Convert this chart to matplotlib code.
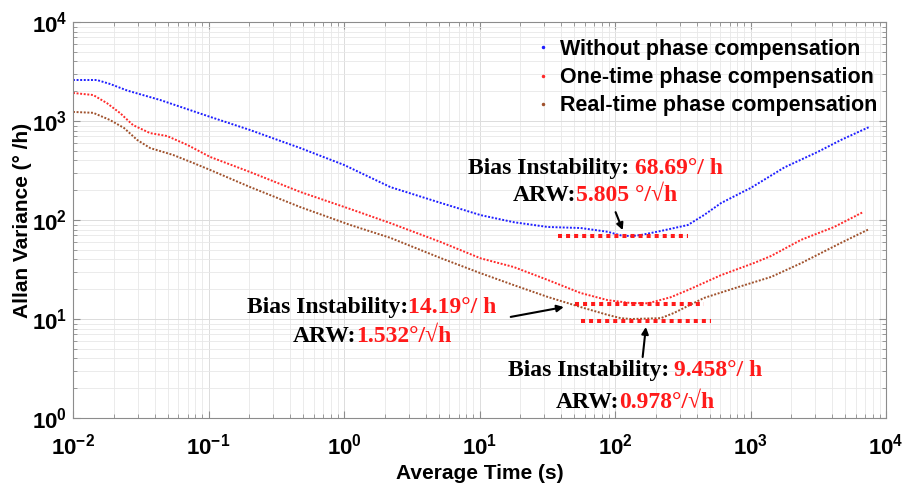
import matplotlib.pyplot as plt
from matplotlib.lines import Line2D

plt.rcParams['font.family'] = ['Liberation Sans', 'DejaVu Sans']
plt.rcParams['font.weight'] = 'bold'
plt.rcParams['mathtext.fontset'] = 'custom'
plt.rcParams['mathtext.rm'] = 'Liberation Sans:bold'
plt.rcParams['mathtext.bf'] = 'Liberation Sans:bold'
plt.rcParams['mathtext.it'] = 'Liberation Sans:bold'

# Allan variance curves (tau in s, value in deg/h)
tau_none = [0.010, 0.015, 0.0188, 0.020, 0.0253, 0.044, 0.103, 0.203, 0.476, 1.0,
            2.20, 5.16, 10.2, 17.9, 31.9, 55.8, 88.4, 110, 131, 155, 218, 345,
            453, 605, 896, 1000, 1780, 3160, 4680, 7520]
avar_none = [2595, 2595, 2365, 2290, 2025, 1630, 1100, 810, 533, 360,
             215, 149, 112, 95, 85, 83, 76, 70, 68.7, 70.5, 77.5, 89,
             112, 148, 195, 210, 340, 490, 646, 870]

tau_once = [0.010, 0.0141, 0.0178, 0.0223, 0.0277, 0.037, 0.0495, 0.0697, 0.103, 0.203,
            0.476, 1.114, 2.20, 5.16, 10.2, 17.9, 31.9, 55.8, 88.4, 131, 175,
            258, 345, 605, 1062, 1418, 2360, 4140, 6760]
avar_once = [1920, 1830, 1515, 1200, 910, 755, 705, 574, 433, 305,
             192, 129, 93, 60, 41, 33.5, 24.8, 18.3, 15.5, 14.5, 14.4,
             16.6, 19.6, 27.7, 36.8, 43.3, 63, 85, 120]

tau_real = [0.010, 0.0141, 0.0187, 0.0238, 0.0297, 0.0371, 0.0548, 0.0771, 0.103, 0.203,
            0.476, 1.114, 2.20, 5.16, 10.2, 17.9, 31.9, 55.8, 88.4, 110, 131,
            218, 272, 453, 809, 1418, 2360, 4680, 7520]
avar_real = [1235, 1210, 1025, 850, 645, 533, 454, 377, 320, 215,
             135, 89, 66, 41.3, 29, 22, 16.7, 13.2, 11, 10.2, 10,
             10.2, 11.5, 16.3, 21, 26.6, 36.6, 59, 81]

series_labels = ['Without phase compensation',
                 'One-time phase compensation',
                 'Real-time phase compensation']
series_colors = ['#1f1fff', '#ff2a2a', '#a0522d']

# bias instability levels and the tau range they are drawn over
bias_levels = [68.69, 14.19, 9.458]
bias_spans = [(37.8, 345), (51, 450), (56, 510)]

xticks = [1e-2, 1e-1, 1e0, 1e1, 1e2, 1e3, 1e4]
xtick_labels = [r'$\mathbf{10^{-2}}$', r'$\mathbf{10^{-1}}$', r'$\mathbf{10^{0}}$',
                r'$\mathbf{10^{1}}$', r'$\mathbf{10^{2}}$', r'$\mathbf{10^{3}}$',
                r'$\mathbf{10^{4}}$']
yticks = [1e0, 1e1, 1e2, 1e3, 1e4]
ytick_labels = [r'$\mathbf{10^{0}}$', r'$\mathbf{10^{1}}$', r'$\mathbf{10^{2}}$',
                r'$\mathbf{10^{3}}$', r'$\mathbf{10^{4}}$']

fig = plt.figure(figsize=(9.08, 4.84), dpi=100)
ax = fig.add_axes([73 / 908, 66 / 484, 813 / 908, 396 / 484])

for t, v, c in zip([tau_none, tau_once, tau_real],
                   [avar_none, avar_once, avar_real], series_colors):
    ax.plot(t, v, color=c, lw=1.4, linestyle=(0, (1, 0.85)))

for level, (x0, x1) in zip(bias_levels, bias_spans):
    ax.plot([x0, x1], [level, level], color='#ff1a1a', lw=2.9,
            linestyle=(0, (1, 1)), solid_capstyle='butt', dash_capstyle='butt')

ax.set_xscale('log')
ax.set_yscale('log')
ax.set_xlim(1e-2, 1e4)
ax.set_ylim(1e0, 1e4)
ax.set_xticks(xticks)
ax.set_xticklabels(xtick_labels)
ax.set_yticks(yticks)
ax.set_yticklabels(ytick_labels)

ax.grid(True, which='major', color='#dcdcdc', lw=0.7)
ax.grid(True, which='minor', color='#e8e8e8', lw=0.6)
ax.set_axisbelow(True)
for s in ax.spines.values():
    s.set_color('#8c8c8c')
    s.set_linewidth(0.8)
ax.tick_params(which='both', direction='in', top=True, right=True, color='#8c8c8c')
ax.tick_params(which='major', length=5, labelsize=16)
ax.tick_params(which='minor', length=3)
ax.tick_params(axis='x', pad=11)
ax.tick_params(axis='y', pad=4)

ax.set_xlabel('Average Time (s)', fontsize=15, fontweight='bold')
ax.set_ylabel('Allan Variance (° /h)', fontsize=15, fontweight='bold')
ax.xaxis.set_label_coords(0.5, -0.116)
ax.yaxis.set_label_coords(-0.051, 0.5)

handles = [Line2D([], [], color=c, marker='.', markersize=3, linestyle='none')
           for c in series_colors]
ax.legend(handles, series_labels, loc='upper right', bbox_to_anchor=(0.99, 0.957),
          frameon=False, fontsize=15.5, handlelength=0.8, handletextpad=0.4,
          labelspacing=0.33, borderpad=0, borderaxespad=0)

# annotation text: black caption followed by red value
serif = ['Liberation Serif', 'DejaVu Serif']


def two_tone(x, y, black, red, gap=0):
    t = ax.text(x, y, black, color='black', fontsize=17, fontweight='bold',
                family=serif, ha='left', va='center')
    ax.annotate(red, xy=(1, 0), xycoords=t, xytext=(gap, 0), textcoords='offset points',
                color='#ff1a1a', fontsize=17, fontweight='bold', family=serif,
                ha='left', va='bottom')


two_tone(8.2, 335, 'Bias Instability:', '68.69°/ h', gap=4)
two_tone(17.6, 178, 'ARW:', '5.805 °/√h')
two_tone(0.193, 13.2, 'Bias Instability:', '14.19°/ h')
two_tone(0.416, 6.73, 'ARW:', '1.532°/√h')
two_tone(16.1, 3.05, 'Bias Instability:', '9.458°/ h', gap=4)
two_tone(36.5, 1.42, 'ARW:', '0.978°/√h')

arrow = dict(arrowstyle='-|>', color='black', lw=1.5, mutation_scale=10,
             shrinkA=0, shrinkB=0)
ax.annotate('', xy=(114, 79), xytext=(101, 120), arrowprops=arrow)
ax.annotate('', xy=(41.9, 13.2), xytext=(17, 10.5), arrowprops=arrow)
ax.annotate('', xy=(169, 8.3), xytext=(160, 4.13), arrowprops=arrow)

fig.savefig('out.png', dpi=100)
